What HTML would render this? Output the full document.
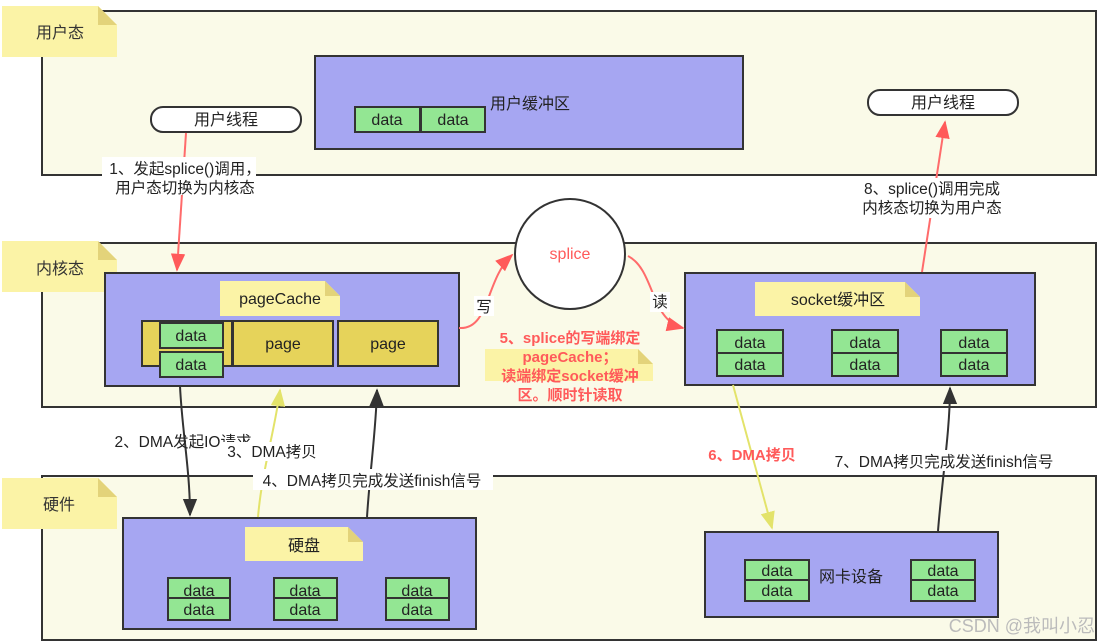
<!DOCTYPE html>
<html><head><meta charset="utf-8"><style>
html,body{margin:0;padding:0;background:#fff;}
svg{display:block;font-family:"Liberation Sans","Noto Sans CJK SC",sans-serif;}
</style></head><body>
<svg width="1101" height="644" viewBox="0 0 1101 644" xmlns="http://www.w3.org/2000/svg">
<defs>
<marker id="ar" viewBox="0 0 10 10" refX="9" refY="5" markerWidth="9" markerHeight="9" orient="auto-start-reverse"><path d="M0,1 L10,5 L0,9 Z" fill="#ff5a5a"/></marker>
<marker id="ab" viewBox="0 0 10 10" refX="9" refY="5" markerWidth="9" markerHeight="9" orient="auto-start-reverse"><path d="M0,1 L10,5 L0,9 Z" fill="#333"/></marker>
<marker id="ay" viewBox="0 0 10 10" refX="9" refY="5" markerWidth="9" markerHeight="9" orient="auto-start-reverse"><path d="M0,1 L10,5 L0,9 Z" fill="#e3e36a"/></marker>
</defs>
<rect x="42" y="11" width="1054" height="164" fill="#fafae8" stroke="#333" stroke-width="2"/>
<rect x="42" y="243" width="1054" height="164" fill="#fafae8" stroke="#333" stroke-width="2"/>
<rect x="42" y="476" width="1054" height="164" fill="#fafae8" stroke="#333" stroke-width="2"/>
<g font-size="16" fill="#333">
<path d="M2,6 H98 L117,25 V57 H2 Z" fill="#fbf3a6"/><path d="M98,6 L117,25 H98 Z" fill="#e3d37a"/>
<text x="36" y="38">用户态</text>
<path d="M2,241 H98 L117,260 V292 H2 Z" fill="#fbf3a6"/><path d="M98,241 L117,260 H98 Z" fill="#e3d37a"/>
<text x="36" y="274">内核态</text>
<path d="M2,478 H98 L117,497 V529 H2 Z" fill="#fbf3a6"/><path d="M98,478 L117,497 H98 Z" fill="#e3d37a"/>
<text x="43" y="510">硬件</text>
</g>
<rect x="315" y="56" width="428" height="93" fill="#a6a6f2" stroke="#333" stroke-width="2"/>
<g font-size="16" fill="#222" text-anchor="middle">
<rect x="355" y="107" width="65" height="25" fill="#93e693" stroke="#333" stroke-width="2"/><text x="387" y="125">data</text>
<rect x="421" y="107" width="64" height="25" fill="#93e693" stroke="#333" stroke-width="2"/><text x="453" y="125">data</text>
<text x="530" y="109">用户缓冲区</text>
<rect x="151" y="107" width="150" height="25" rx="12" fill="#fff" stroke="#333" stroke-width="2"/><text x="226" y="125">用户线程</text>
<rect x="868" y="90" width="150" height="25" rx="12" fill="#fff" stroke="#333" stroke-width="2"/><text x="943" y="108">用户线程</text>
</g>
<rect x="105" y="273" width="354" height="113" fill="#a6a6f2" stroke="#333" stroke-width="2"/>
<path d="M220,281 H325 L340,296 V316 H220 Z" fill="#fbf3a6"/><path d="M325,281 L340,296 H325 Z" fill="#e3d37a"/>
<g font-size="16" fill="#222" text-anchor="middle">
<text x="280" y="304">pageCache</text>
<rect x="142" y="321" width="90" height="45" fill="#e6d35a" stroke="#333" stroke-width="2"/>
<rect x="233" y="321" width="100" height="45" fill="#e6d35a" stroke="#333" stroke-width="2"/><text x="283" y="349">page</text>
<rect x="338" y="321" width="100" height="45" fill="#e6d35a" stroke="#333" stroke-width="2"/><text x="388" y="349">page</text>
<rect x="160" y="323" width="63" height="25" fill="#93e693" stroke="#333" stroke-width="2"/><text x="191" y="341">data</text>
<rect x="160" y="352" width="63" height="25" fill="#93e693" stroke="#333" stroke-width="2"/><text x="191" y="370">data</text>
</g>
<circle cx="570" cy="254" r="55" fill="#fff" stroke="#333" stroke-width="2"/>
<text x="570" y="259" font-size="16" fill="#ff5a5a" text-anchor="middle">splice</text>
<rect x="685" y="273" width="350" height="112" fill="#a6a6f2" stroke="#333" stroke-width="2"/>
<path d="M755,282 H905 L920,297 V316 H755 Z" fill="#fbf3a6"/><path d="M905,282 L920,297 H905 Z" fill="#e3d37a"/>
<g font-size="16" fill="#222" text-anchor="middle">
<text x="838" y="305">socket缓冲区</text>
<rect x="717" y="330" width="66" height="23" fill="#93e693" stroke="#333" stroke-width="2"/><text x="750" y="348">data</text>
<rect x="717" y="353" width="66" height="23" fill="#93e693" stroke="#333" stroke-width="2"/><text x="750" y="370">data</text>
<rect x="832" y="330" width="66" height="23" fill="#93e693" stroke="#333" stroke-width="2"/><text x="865" y="348">data</text>
<rect x="832" y="353" width="66" height="23" fill="#93e693" stroke="#333" stroke-width="2"/><text x="865" y="370">data</text>
<rect x="941" y="330" width="66" height="23" fill="#93e693" stroke="#333" stroke-width="2"/><text x="974" y="348">data</text>
<rect x="941" y="353" width="66" height="23" fill="#93e693" stroke="#333" stroke-width="2"/><text x="974" y="370">data</text>
</g>
<rect x="123" y="518" width="353" height="111" fill="#a6a6f2" stroke="#333" stroke-width="2"/>
<path d="M245,527 H348 L363,542 V561 H245 Z" fill="#fbf3a6"/><path d="M348,527 L363,542 H348 Z" fill="#e3d37a"/>
<g font-size="16" fill="#222" text-anchor="middle">
<text x="304" y="551">硬盘</text>
<rect x="168" y="578" width="62" height="20" fill="#93e693" stroke="#333" stroke-width="2"/><text x="199" y="596">data</text>
<rect x="168" y="598" width="62" height="22" fill="#93e693" stroke="#333" stroke-width="2"/><text x="199" y="615">data</text>
<rect x="274" y="578" width="63" height="20" fill="#93e693" stroke="#333" stroke-width="2"/><text x="305" y="596">data</text>
<rect x="274" y="598" width="63" height="22" fill="#93e693" stroke="#333" stroke-width="2"/><text x="305" y="615">data</text>
<rect x="386" y="578" width="63" height="20" fill="#93e693" stroke="#333" stroke-width="2"/><text x="417" y="596">data</text>
<rect x="386" y="598" width="63" height="22" fill="#93e693" stroke="#333" stroke-width="2"/><text x="417" y="615">data</text>
</g>
<rect x="705" y="532" width="293" height="85" fill="#a6a6f2" stroke="#333" stroke-width="2"/>
<g font-size="16" fill="#222" text-anchor="middle">
<text x="851" y="582">网卡设备</text>
<rect x="745" y="560" width="64" height="20" fill="#93e693" stroke="#333" stroke-width="2"/><text x="777" y="576">data</text>
<rect x="745" y="580" width="64" height="21" fill="#93e693" stroke="#333" stroke-width="2"/><text x="777" y="596">data</text>
<rect x="911" y="560" width="64" height="20" fill="#93e693" stroke="#333" stroke-width="2"/><text x="943" y="576">data</text>
<rect x="911" y="580" width="64" height="21" fill="#93e693" stroke="#333" stroke-width="2"/><text x="943" y="596">data</text>
</g>
<g fill="none" stroke-width="2">
<path d="M186,133 L177,270" stroke="#ff6b6b" marker-end="url(#ar)"/>
<path d="M922,272 L945,122" stroke="#ff6b6b" marker-end="url(#ar)"/>
<path d="M459,328 C490,330 485,280 512,255" stroke="#ff6b6b" marker-end="url(#ar)"/>
<path d="M628,256 C655,270 650,320 683,328" stroke="#ff6b6b" marker-end="url(#ar)"/>
<path d="M180,386 C182,430 190,470 190,515" stroke="#333" marker-end="url(#ab)"/>
<path d="M258,517 C262,470 275,430 280,390" stroke="#e3e36a" marker-end="url(#ay)"/>
<path d="M367,517 C370,470 376,430 377,390" stroke="#333" marker-end="url(#ab)"/>
<path d="M733,385 L772,528" stroke="#e3e36a" marker-end="url(#ay)"/>
<path d="M938,531 C942,480 950,430 950,388" stroke="#333" marker-end="url(#ab)"/>
</g>
<g font-size="15.5" fill="#222" text-anchor="middle">
<rect x="102" y="157" width="154" height="38" fill="#fff"/>
<text x="185" y="174">1、发起splice()调用，</text>
<text x="185" y="193">用户态切换为内核态</text>
<rect x="858" y="178" width="150" height="40" fill="#fff"/>
<text x="932" y="194">8、splice()调用完成</text>
<text x="932" y="213">内核态切换为用户态</text>
<rect x="474" y="296" width="20" height="20" fill="#fff"/><text x="484" y="312">写</text>
<rect x="650" y="292" width="20" height="20" fill="#fff"/><text x="660" y="307">读</text>
<text x="183" y="447">2、DMA发起IO请求</text>
<rect x="222" y="442" width="100" height="19" fill="#fff"/>
<text x="272" y="457">3、DMA拷贝</text>
<rect x="253" y="469" width="240" height="21" fill="#fff"/>
<text x="372" y="486">4、DMA拷贝完成发送finish信号</text>
<rect x="826" y="450" width="236" height="21" fill="#fff"/>
<text x="944" y="467">7、DMA拷贝完成发送finish信号</text>
</g>
<path d="M485,349 H638 L653,364 V381 H485 Z" fill="#fbf3a6"/><path d="M638,349 L653,364 H638 Z" fill="#e3d37a"/>
<g font-size="15" fill="#ff5a5a" font-weight="bold" text-anchor="middle">
<text x="570" y="343">5、splice的写端绑定</text>
<text x="570" y="362">pageCache；</text>
<text x="570" y="381">读端绑定socket缓冲</text>
<text x="570" y="400">区。顺时针读取</text>
<text x="752" y="460">6、DMA拷贝</text>
</g>
<text x="1095" y="632" font-size="18" fill="#bbb" text-anchor="end">CSDN @我叫小忍</text>
</svg>
</body></html>
